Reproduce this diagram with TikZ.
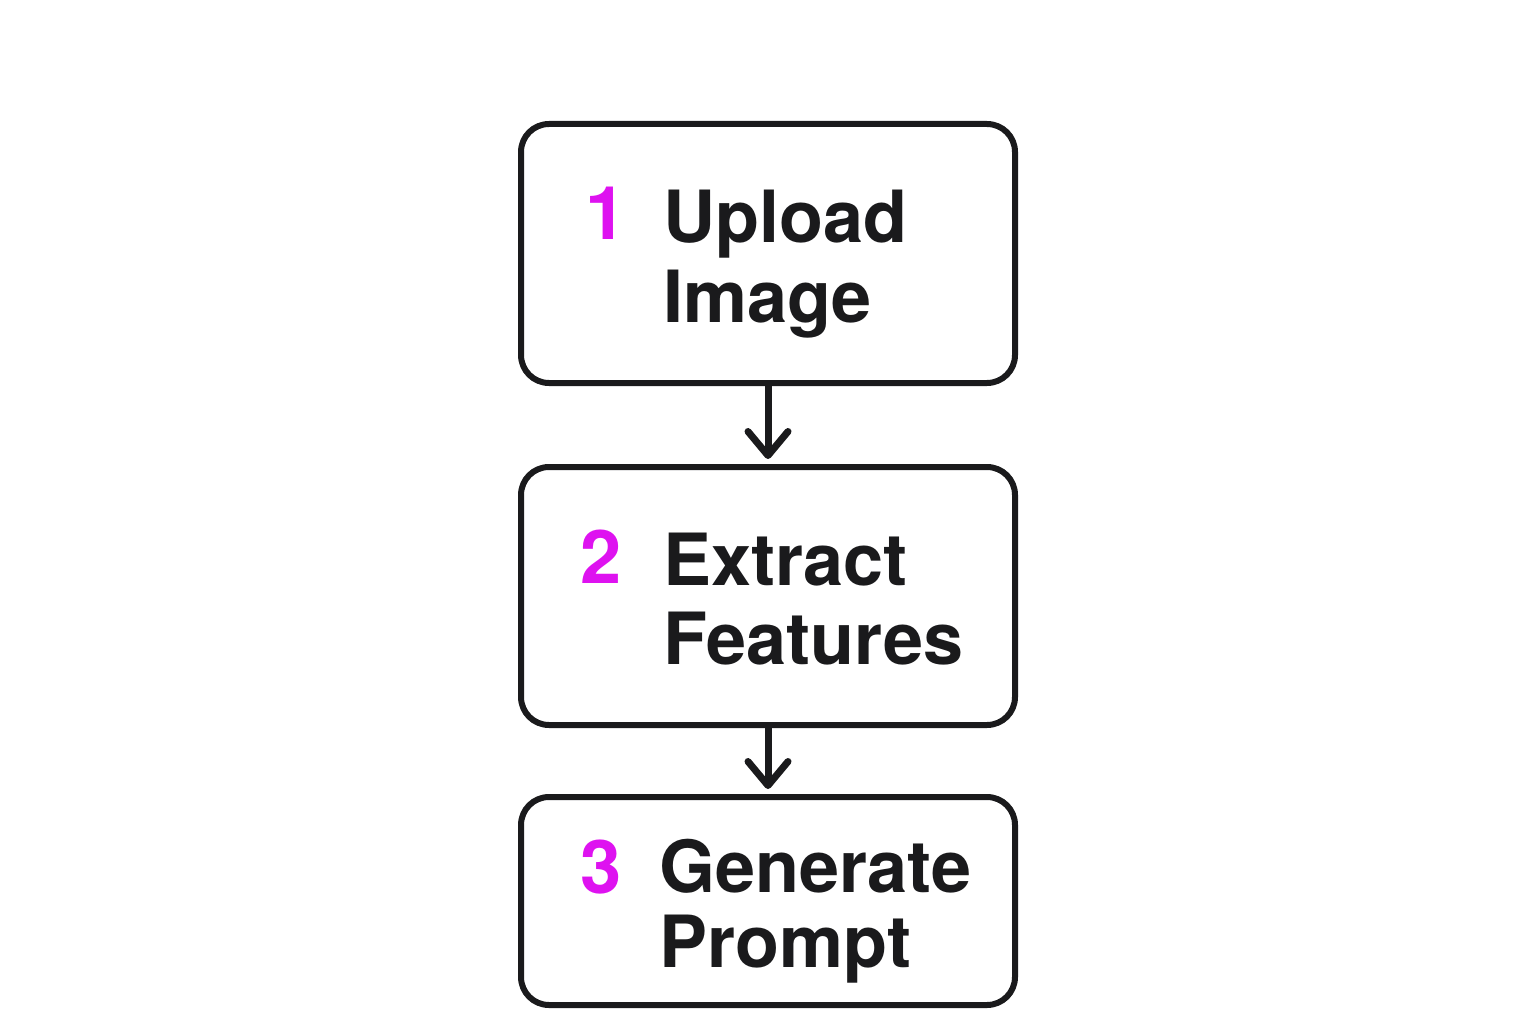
\documentclass[tikz,border=0pt]{standalone}
\usepackage{fontspec}
\setmainfont{TeX Gyre Heros}
\usetikzlibrary{arrows.meta}
\definecolor{ink}{RGB}{26,26,28}
\definecolor{mag}{RGB}{222,18,240}
\begin{document}
\begin{tikzpicture}[x=1pt,y=-1pt,
 box/.style={draw=ink, line width=6pt, rounded corners=28pt, minimum width=494pt, inner sep=0pt},
 lbl/.style={anchor=base west, inner sep=0pt, text=ink, font=\fontsize{72}{80}\selectfont\bfseries},
 num/.style={anchor=base east, inner sep=0pt, text=mag, font=\fontsize{74}{80}\selectfont\bfseries},
 arr/.style={draw=ink, line width=7pt, shorten >=5pt, -{Straight Barb[length=24pt,width=40pt,line width=7pt,round]}}]
\useasboundingbox (0,0) rectangle (1536,1024);
\node[box, minimum height=259pt] (b1) at (768,253.5) {};
\node[box, minimum height=258pt] (b2) at (768,596) {};
\node[box, minimum height=208pt] (b3) at (768,901) {};
\node[num] (n1) at (627,240) {1};
\node[lbl] (t1a) at (663,243) {Upload};
\node[lbl] (t1b) at (663,322) {Image};
\node[num] (n2) at (622,583) {2};
\node[lbl] (t2a) at (663,585) {Extract};
\node[lbl] (t2b) at (663,664) {Features};
\node[num] (n3) at (622,893) {3};
\node[lbl] (t3a) at (659,892) {Generate};
\node[lbl] (t3b) at (659,967) {Prompt};
\draw[arr] (b1.south) -- (b2.north);
\draw[arr] (b2.south) -- (b3.north);
\end{tikzpicture}
\end{document}
